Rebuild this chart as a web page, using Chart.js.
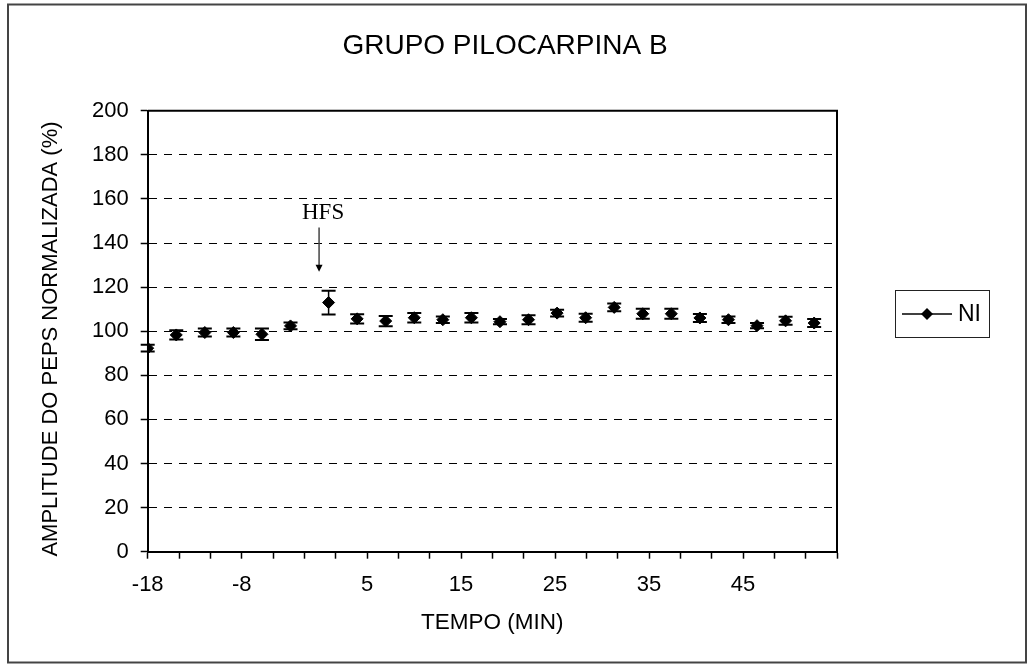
<!DOCTYPE html>
<html>
<head>
<meta charset="utf-8">
<script src="https://cdn.jsdelivr.net/npm/chart.js@4"></script>
<style>
  html, body { margin: 0; padding: 0; background: #fff; }
  #wrap { width: 1034px; height: 664px; position: relative; }
</style>
</head>
<body>
<div id="wrap"><canvas id="chart"></canvas></div>
<script>
// time in minutes (HFS at 0), amplitude in % of baseline, error = SEM
const times = [-18, -15, -12, -9, -6, -3, 1, 4, 7, 10, 13, 16, 19, 22, 25, 28, 31, 34, 37, 40, 43, 46, 49, 52];
const amplitude = [92.3, 98.3, 99.4, 99.4, 98.6, 102.4, 113.0, 105.6, 104.6, 106.1, 105.2, 106.1,
                   104.3, 105.2, 108.2, 106.1, 110.8, 107.9, 107.9, 106.0, 105.2, 102.5, 104.7, 103.7];
const sem = [1.5, 2.1, 1.8, 1.8, 2.6, 1.5, 5.4, 2.1, 2.3, 2.1, 1.5, 2.2,
             1.2, 2.0, 1.5, 1.8, 1.8, 2.3, 2.3, 1.8, 1.5, 1.2, 1.8, 1.8];
const xTickLabels = ["-18", "", "", "-8", "", "", "", "5", "", "", "15", "", "", "25", "", "", "35", "", "", "45", "", "", ""];
const xMin = -18, xMax = 54.4;
const seriesName = "NI";
const chartTitle = "GRUPO PILOCARPINA B";
const xTitle = "TEMPO (MIN)";
const yTitle = "AMPLITUDE DO PEPS NORMALIZADA (%)";
const hfsTime = 0;

const SANS = "'Liberation Sans', Arial, sans-serif";

const decor = {
  id: "decor",
  beforeDraw(chart) {
    const ctx = chart.ctx;
    ctx.save();
    ctx.fillStyle = "#fff";
    ctx.fillRect(0, 0, chart.width, chart.height);
    ctx.restore();
  },
  afterDatasetsDraw(chart) {
    // error bars
    const ctx = chart.ctx, xs = chart.scales.x, ys = chart.scales.y;
    ctx.save();
    ctx.strokeStyle = "#000";
    for (let i = 0; i < times.length; i++) {
      const x = xs.getPixelForValue(times[i]);
      const yt = ys.getPixelForValue(amplitude[i] + sem[i]);
      const yb = ys.getPixelForValue(amplitude[i] - sem[i]);
      ctx.lineWidth = 1.5;
      ctx.beginPath();
      ctx.moveTo(x, yt); ctx.lineTo(x, yb);
      ctx.stroke();
      ctx.lineWidth = 2;
      ctx.beginPath();
      ctx.moveTo(x - 7, yt); ctx.lineTo(x + 7, yt);
      ctx.moveTo(x - 7, yb); ctx.lineTo(x + 7, yb);
      ctx.stroke();
    }
    ctx.restore();
  },
  afterDraw(chart) {
    const ctx = chart.ctx, a = chart.chartArea, xs = chart.scales.x, ys = chart.scales.y;
    ctx.save();
    // plot frame top + right
    ctx.strokeStyle = "#000";
    ctx.lineWidth = 2;
    ctx.beginPath();
    ctx.moveTo(a.left, a.top); ctx.lineTo(a.right, a.top); ctx.lineTo(a.right, a.bottom);
    ctx.stroke();

    // outer border
    ctx.strokeStyle = "#444";
    ctx.lineWidth = 2;
    ctx.strokeRect(8, 4.5, 1018, 658);

    // titles
    ctx.fillStyle = "#000";
    ctx.textAlign = "center";
    ctx.textBaseline = "middle";
    ctx.font = "28px " + SANS;
    ctx.fillText(chartTitle, 505, 46);
    ctx.font = "22.5px " + SANS;
    ctx.fillText(xTitle, (a.left + a.right) / 2, 623);
    ctx.save();
    ctx.translate(51, 339);
    ctx.rotate(-Math.PI / 2);
    ctx.font = "22px " + SANS;
    ctx.fillText(yTitle, 0, 0);
    ctx.restore();

    // HFS annotation
    const hx = xs.getPixelForValue(hfsTime);
    const yTop = ys.getPixelForValue(147), yTip = ys.getPixelForValue(127);
    ctx.font = "23px 'Liberation Serif', 'Times New Roman', serif";
    ctx.fillText("HFS", hx + 4, ys.getPixelForValue(153.5));
    ctx.lineWidth = 1.5;
    ctx.beginPath();
    ctx.moveTo(hx, yTop); ctx.lineTo(hx, yTip - 5);
    ctx.stroke();
    ctx.beginPath();
    ctx.moveTo(hx - 3.5, yTip - 7); ctx.lineTo(hx + 3.5, yTip - 7); ctx.lineTo(hx, yTip);
    ctx.closePath();
    ctx.fill();

    // legend
    const lx = 895, ly = 290, lw = 94, lh = 47;
    ctx.strokeStyle = "#222";
    ctx.lineWidth = 1;
    ctx.strokeRect(lx + 0.5, ly + 0.5, lw, lh);
    const cy = ly + lh / 2 + 0.5;
    ctx.strokeStyle = "#000";
    ctx.lineWidth = 1.5;
    ctx.beginPath();
    ctx.moveTo(lx + 7, cy); ctx.lineTo(lx + 57, cy);
    ctx.stroke();
    ctx.beginPath();
    ctx.moveTo(lx + 32 - 6, cy); ctx.lineTo(lx + 32, cy - 6);
    ctx.lineTo(lx + 32 + 6, cy); ctx.lineTo(lx + 32, cy + 6);
    ctx.closePath();
    ctx.fill();
    ctx.textAlign = "left";
    ctx.font = "23px " + SANS;
    ctx.fillText(seriesName, lx + 63, cy + 1);
    ctx.restore();
  }
};

new Chart(document.getElementById("chart"), {
  type: "scatter",
  data: {
    datasets: [{
      label: seriesName,
      data: times.map((t, i) => ({ x: t, y: amplitude[i] })),
      showLine: false,
      pointStyle: "rectRot",
      pointRadius: 6,
      pointHoverRadius: 6,
      pointBackgroundColor: "#000",
      pointBorderColor: "#000",
      pointBorderWidth: 1
    }]
  },
  options: {
    responsive: true,
    maintainAspectRatio: false,
    animation: false,
    events: [],
    layout: { padding: { left: 0, top: 110.7, right: 197, bottom: 0 } },
    plugins: { legend: { display: false }, title: { display: false }, tooltip: { enabled: false } },
    scales: {
      x: {
        type: "linear",
        min: xMin,
        max: xMax,
        afterBuildTicks: axis => {
          const step = (xMax - xMin) / (xTickLabels.length - 1);
          axis.ticks = xTickLabels.map((_, i) => ({ value: xMin + i * step }));
        },
        afterFit: axis => { axis.height = 664 - 551.7; },
        ticks: {
          autoSkip: false,
          maxRotation: 0,
          minRotation: 0,
          padding: 13,
          color: "#000",
          font: { family: SANS, size: 22 },
          callback: (v, i) => xTickLabels[i]
        },
        grid: { drawOnChartArea: false, drawTicks: true, tickLength: 7, tickColor: "#000", tickWidth: 1.5 },
        border: { color: "#000", width: 2 }
      },
      y: {
        min: 0,
        max: 200,
        afterFit: axis => { axis.width = 147.7; },
        ticks: {
          stepSize: 20,
          padding: 12,
          color: "#000",
          font: { family: SANS, size: 22 }
        },
        grid: { color: "#000", lineWidth: 1, tickLength: 7, tickColor: "#000", tickWidth: 1.5, tickBorderDash: [] },
        border: { color: "#000", width: 2, dash: [8, 7] }
      }
    }
  },
  plugins: [decor]
});
</script>
</body>
</html>
